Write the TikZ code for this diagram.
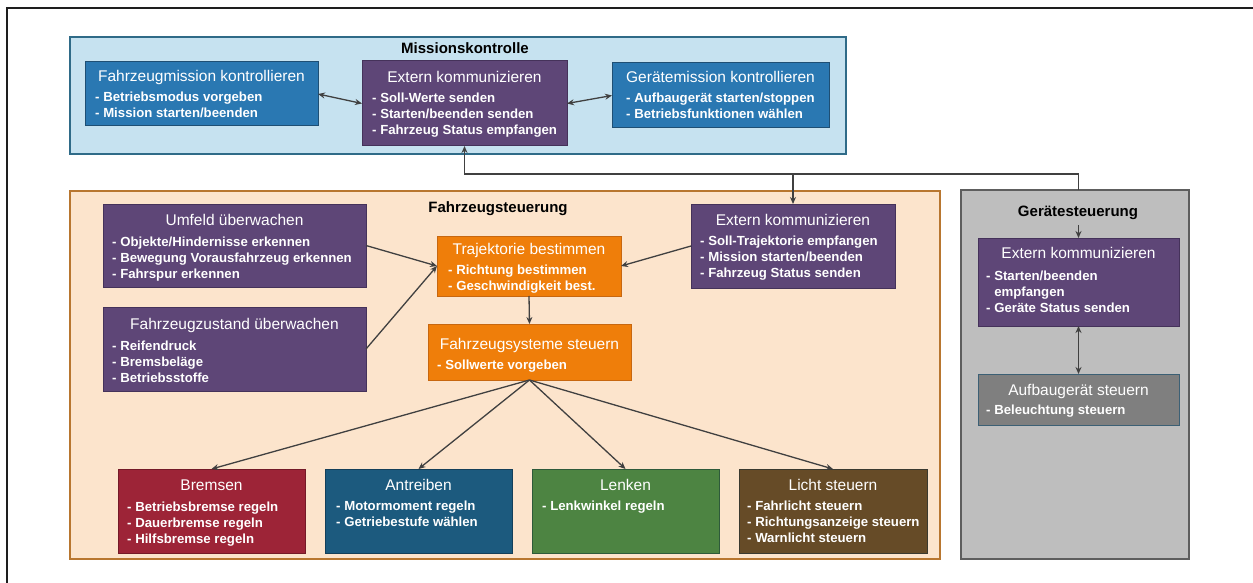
\documentclass[tikz,border=0pt]{standalone}
\usepackage{fontspec}
\setmainfont{Liberation Sans}
\usetikzlibrary{arrows.meta,calc}

% container colours
\definecolor{mkfill}{HTML}{C6E2F0}
\definecolor{mkline}{HTML}{2F6B88}
\definecolor{fsfill}{HTML}{FCE4CC}
\definecolor{fsline}{HTML}{B8762F}
\definecolor{gsfill}{HTML}{BEBEBE}
\definecolor{gsline}{HTML}{5E5E5E}
% function box colours
\definecolor{missblue}{HTML}{2A78B2}
\definecolor{missblueline}{HTML}{1E4F74}
\definecolor{purp}{HTML}{5E4677}
\definecolor{purpline}{HTML}{45325A}
\definecolor{orng}{HTML}{EF7E0A}
\definecolor{orngline}{HTML}{C76710}
\definecolor{brk}{HTML}{9D2437}
\definecolor{brkline}{HTML}{741A28}
\definecolor{drv}{HTML}{1C5A7E}
\definecolor{drvline}{HTML}{143F59}
\definecolor{steer}{HTML}{4D8442}
\definecolor{steerline}{HTML}{2E5A3A}
\definecolor{lgt}{HTML}{664B27}
\definecolor{lgtline}{HTML}{3A3A30}
\definecolor{aufb}{HTML}{7F7F7F}
\definecolor{aufbline}{HTML}{3C6075}
\definecolor{conn}{HTML}{404040}
\definecolor{framecol}{HTML}{1E1E1E}

% title baseline below box top, and gap from title baseline to first item line top
\newcommand\toff{21.4pt}
\newcommand\ioff{10pt}
% #1 name, #2-#5 corners (x1,y1,x2,y2), #6 style, #7 left padding, #8 title, #9 items
\newcommand\mkbox[9]{%
  \node[box,#6,minimum width={#4-#2},minimum height={#5-#3}] (#1) at ({(#2+#4)/2},{(#3+#5)/2}) {};
  \node[ttl] (#1-t) at ([yshift=-\toff]#1.north) {#8};
  \node[itm] (#1-i) at ([xshift=#7pt,yshift={-\toff-\ioff}]#1.north west) {#9};}

\begin{document}
\begin{tikzpicture}[x=1pt,y=-1pt,
  box/.style={draw, line width=1pt, inner sep=0pt, outer sep=0pt},
  cont/.style={draw, line width=1.8pt, inner sep=0pt, outer sep=0pt},
  ttl/.style={anchor=base, inner sep=0pt, text=white, font=\fontsize{15.5}{18}\selectfont},
  itm/.style={anchor=north west, inner sep=0pt, align=left, text=white, font=\bfseries\fontsize{13.2}{16}\selectfont},
  ctitle/.style={anchor=base, inner sep=0pt, text=black, font=\bfseries\fontsize{15}{18}\selectfont},
  con/.style={draw=conn, line width=1.3pt},
  >={Stealth[length=7pt,width=6pt]},
  bluebox/.style={fill=missblue, draw=missblueline},
  purplebox/.style={fill=purp, draw=purpline},
  orangebox/.style={fill=orng, draw=orngline},
  redbox/.style={fill=brk, draw=brkline},
  tealbox/.style={fill=drv, draw=drvline},
  greenbox/.style={fill=steer, draw=steerline},
  brownbox/.style={fill=lgt, draw=lgtline},
  greybox/.style={fill=aufb, draw=aufbline}]

\useasboundingbox (0,0) rectangle (1253,583);
\fill[white] (0,0) rectangle (1253,583);

% page frame
\coordinate (fr-bl) at (7,583);
\coordinate (fr-tl) at (7,8);
\coordinate (fr-tr) at (1253,8);
\draw[framecol, line width=1.4pt] (fr-bl) -- (fr-tl) -- (fr-tr);

% containers
\node[cont, fill=mkfill, draw=mkline, minimum width=776, minimum height=117] (mk) at (458,95.5) {};
\node[ctitle] (mk-t) at (465,53.5) {Missionskontrolle};
\node[cont, fill=fsfill, draw=fsline, minimum width=870, minimum height=368] (fs) at (505,375) {};
\node[ctitle] (fs-t) at (498,212.5) {Fahrzeugsteuerung};
\node[cont, fill=gsfill, draw=gsline, minimum width=228, minimum height=369] (gs) at (1075,374.5) {};
\node[ctitle] (gs-t) at (1078,216.5) {Gerätesteuerung};

% Missionskontrolle
\renewcommand\toff{19.5pt}
\mkbox{fm}{85}{62}{318}{126}{bluebox}{10}{Fahrzeugmission kontrollieren}{- Betriebsmodus vorgeben\\- Mission starten/beenden}
\renewcommand\toff{21.4pt}
\mkbox{ekm}{362}{61}{567}{146}{purplebox}{10}{Extern kommunizieren}{- Soll-Werte senden\\- Starten/beenden senden\\- Fahrzeug Status empfangen}
\renewcommand\toff{20pt}
\mkbox{gm}{612}{63}{829}{128}{bluebox}{14}{Gerätemission kontrollieren}{- Aufbaugerät starten/stoppen\\- Betriebsfunktionen wählen}

% Fahrzeugsteuerung
\renewcommand\toff{21.4pt}
\renewcommand\ioff{11pt}
\mkbox{um}{103}{204}{366}{287}{purplebox}{9}{Umfeld überwachen}{- Objekte/Hindernisse erkennen\\- Bewegung Vorausfahrzeug erkennen\\- Fahrspur erkennen}
\renewcommand\toff{22.4pt}
\mkbox{fz}{103}{307}{366}{391}{purplebox}{9}{Fahrzeugzustand überwachen}{- Reifendruck\\- Bremsbeläge\\- Betriebsstoffe}
\renewcommand\ioff{10pt}
\renewcommand\toff{18.4pt}
\mkbox{tr}{437}{236}{621}{296}{orangebox}{11}{Trajektorie bestimmen}{- Richtung bestimmen\\- Geschwindigkeit best.}
\renewcommand\toff{25.4pt}
\mkbox{fy}{428}{324}{631}{380}{orangebox}{9}{Fahrzeugsysteme steuern}{- Sollwerte vorgeben}
\renewcommand\toff{21.4pt}
\mkbox{ekf}{691}{204}{895}{288}{purplebox}{9}{Extern kommunizieren}{- Soll-Trajektorie empfangen\\- Mission starten/beenden\\- Fahrzeug Status senden}
\renewcommand\ioff{11pt}
\mkbox{br}{118}{469}{305}{553}{redbox}{9}{Bremsen}{- Betriebsbremse regeln\\- Dauerbremse regeln\\- Hilfsbremse regeln}
\renewcommand\ioff{10pt}
\mkbox{an}{325}{469}{512}{553}{tealbox}{11}{Antreiben}{- Motormoment regeln\\- Getriebestufe wählen}
\mkbox{le}{532}{469}{719}{553}{greenbox}{10}{Lenken}{- Lenkwinkel regeln}
\mkbox{li}{739}{469}{927}{553}{brownbox}{8}{Licht steuern}{- Fahrlicht steuern\\- Richtungsanzeige steuern\\- Warnlicht steuern}

% Gerätesteuerung
\renewcommand\toff{20.4pt}
\renewcommand\ioff{12pt}
\mkbox{ekg}{978}{238}{1179}{326}{purplebox}{8}{Extern kommunizieren}{- Starten/beenden\\\hspace*{0.61em}empfangen\\- Geräte Status senden}
\renewcommand\toff{21.4pt}
\renewcommand\ioff{9pt}
\mkbox{ab}{978}{374}{1179}{425}{greybox}{8}{Aufbaugerät steuern}{- Beleuchtung steuern}

% connectors
\draw[con,<->] (fm.east) -- (ekm.west);
\draw[con,<->] (ekm.east) -- (gm.west);

\coordinate (bus) at (0,174);
\draw[con,<->] (ekm.south) -- (ekm.south |- bus) -- (ekf.north |- bus) -- (ekf.north);
\draw[con] (ekf.north |- bus) -- (ekg.north |- bus) -- (ekg.north |- gs.north);
\draw[con,->] ($(gs-t.south -| ekg.north)+(0,5)$) -- (ekg.north);
\draw[con,<->] (ekg.south) -- (ab.north);

\draw[con,->] (um.east) -- (tr.west);
\draw[con,->] (fz.east) -- (tr.west);
\draw[con,->] (ekf.west) -- (tr.east);
\draw[con,->] (tr.south) -- (fy.north);
\draw[con,->] (fy.south) -- (br.north);
\draw[con,->] (fy.south) -- (an.north);
\draw[con,->] (fy.south) -- (le.north);
\draw[con,->] (fy.south) -- (li.north);

\end{tikzpicture}
\end{document}
